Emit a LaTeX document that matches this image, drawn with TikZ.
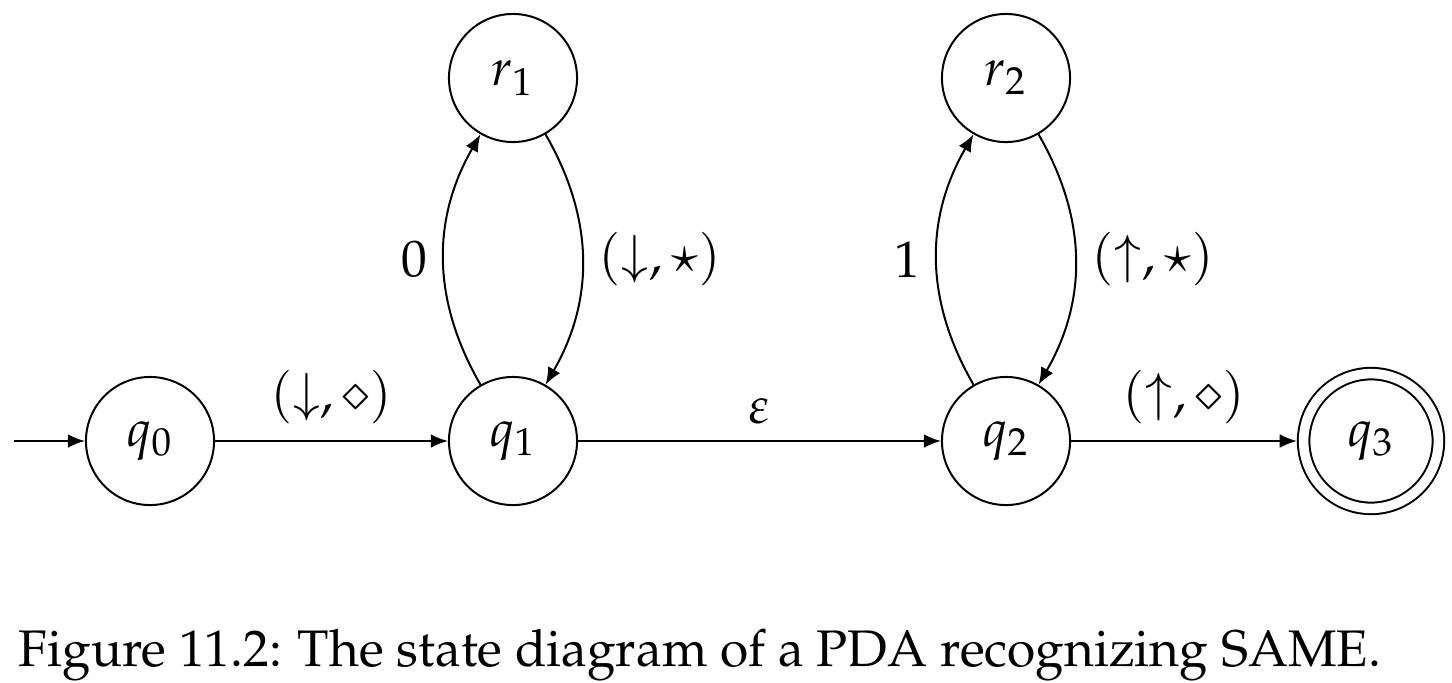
\documentclass[tikz,border=0pt]{standalone}
\usepackage[T1]{fontenc}
\usepackage{mathpazo}
\usetikzlibrary{arrows.meta}
\begin{document}
\begin{tikzpicture}[x=0.21pt,y=-0.21pt,
  font=\fontsize{10.8pt}{13pt}\selectfont,
  state/.style={circle,draw,line width=0.42pt,minimum size=26.9pt,inner sep=0pt},
  accept/.style={state,double,double distance=2pt,minimum size=28.3pt,outer sep=1.42pt},
  >={Latex[length=3.6pt,width=2.9pt]},
  every edge/.style={draw,->,line width=0.42pt}]
\useasboundingbox (0,0) rectangle (1452,682);
\node[state] (q0) at (150,441) {$q_0$};
\node[state] (q1) at (513,441) {$q_1$};
\node[state] (r1) at (513,78) {$r_1$};
\node[state] (q2) at (1006,441) {$q_2$};
\node[state] (r2) at (1006,78) {$r_2$};
\node[accept] (q3) at (1371,441) {$q_3$};
\coordinate (start) at (14,441);
\draw[->,line width=0.42pt] (start) -- (q0);
\path (q0) edge node[above] {$(\downarrow,\diamond)$} (q1)
      (q1) edge node[above] {$\varepsilon$} (q2)
      (q2) edge node[above] {$(\uparrow,\diamond)$} (q3)
      (q1) edge[bend left=30] node[left] {$0$} (r1)
      (r1) edge[bend left=30] node[right] {$(\downarrow,\star)$} (q1)
      (q2) edge[bend left=30] node[left] {$1$} (r2)
      (r2) edge[bend left=30] node[right] {$(\uparrow,\star)$} (q2);
\node (cap) at (700,655) {Figure 11.2: The state diagram of a PDA recognizing SAME.};
\end{tikzpicture}
\end{document}
